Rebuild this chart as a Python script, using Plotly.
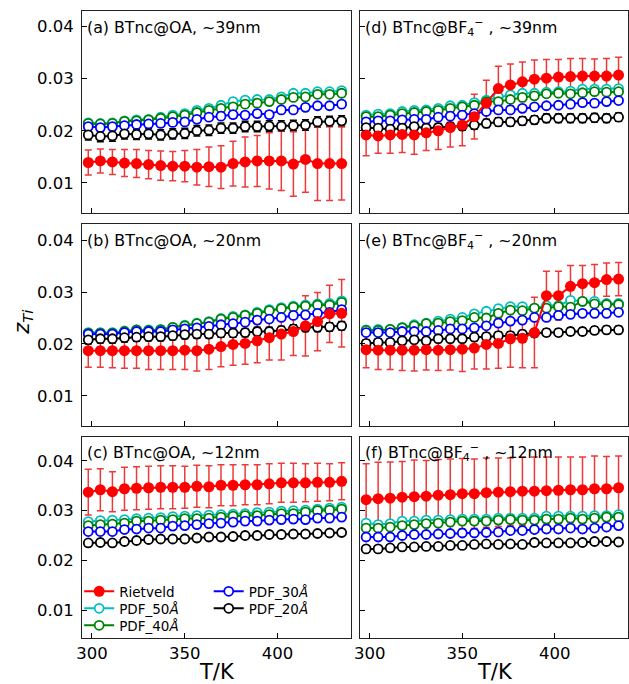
import plotly.graph_objects as go

# ---------------- data ----------------
T = [298, 304.5, 311, 317.5, 324, 330.5, 337, 343.5, 350, 356.5, 363,
     369.5, 376, 382.5, 389, 395.5, 402, 408.5, 415, 421.5, 428, 434.5]

series_names = ["Rietveld", "PDF_50<i>Å</i>", "PDF_40<i>Å</i>", "PDF_30<i>Å</i>", "PDF_20<i>Å</i>"]
series_colors = ["#ff0000", "#00bfbf", "#008000", "#0000ff", "#000000"]

panel_labels = ["(a) BTnc@OA, ~39nm", "(b) BTnc@OA, ~20nm", "(c) BTnc@OA, ~12nm",
                "(d) BTnc@BF<sub>4</sub><sup>−</sup> , ~39nm",
                "(e) BTnc@BF<sub>4</sub><sup>−</sup> , ~20nm",
                "(f) BTnc@BF<sub>4</sub><sup>−</sup> , ~12nm"]

x_ticks = [300, 350, 400]
y_ticks = [0.01, 0.02, 0.03, 0.04]
y_ticktext = ["0.01", "0.02", "0.03", "0.04"]

# (a) OA ~39nm
a_riet = [0.0139, 0.0142, 0.0140, 0.0138, 0.0137, 0.0135, 0.0133, 0.0132, 0.0132, 0.0130, 0.0131,
          0.0130, 0.0137, 0.0140, 0.0142, 0.0142, 0.0142, 0.0136, 0.0145, 0.0137, 0.0137, 0.0137]
a_riet_err = [0.0024, 0.0023, 0.0024, 0.0026, 0.0027, 0.0027, 0.0028, 0.0028, 0.0030, 0.0034, 0.0038,
              0.0041, 0.0043, 0.0048, 0.0049, 0.0054, 0.0057, 0.0062, 0.0063, 0.0071, 0.0071, 0.0070]
a_p50 = [0.0215, 0.0214, 0.0215, 0.0219, 0.0221, 0.0222, 0.0226, 0.0230, 0.0233, 0.0239, 0.0243,
         0.0249, 0.0256, 0.0259, 0.0260, 0.0260, 0.0265, 0.0272, 0.0272, 0.0275, 0.0275, 0.0277]
a_p40 = [0.0214, 0.0213, 0.0214, 0.0218, 0.0219, 0.0221, 0.0224, 0.0227, 0.0230, 0.0235, 0.0239,
         0.0243, 0.0246, 0.0251, 0.0253, 0.0256, 0.0260, 0.0264, 0.0265, 0.0270, 0.0270, 0.0272]
a_p30 = [0.0208, 0.0206, 0.0208, 0.0210, 0.0212, 0.0213, 0.0214, 0.0216, 0.0217, 0.0222, 0.0226,
         0.0228, 0.0231, 0.0230, 0.0233, 0.0231, 0.0240, 0.0240, 0.0245, 0.0248, 0.0248, 0.0251]
a_p20 = [0.0192, 0.0189, 0.0190, 0.0194, 0.0193, 0.0194, 0.0192, 0.0194, 0.0195, 0.0200, 0.0201,
         0.0205, 0.0205, 0.0208, 0.0208, 0.0209, 0.0209, 0.0210, 0.0211, 0.0217, 0.0218, 0.0219]
a_pdf_err = [0.0005, 0.0005, 0.0006, 0.0010]

# (b) OA ~20nm
b_riet = [0.0187, 0.0187, 0.0187, 0.0187, 0.0187, 0.0187, 0.0187, 0.0187, 0.0188, 0.0187, 0.0190,
          0.0195, 0.0199, 0.0201, 0.0206, 0.0212, 0.0219, 0.0224, 0.0235, 0.0243, 0.0258, 0.0259]
b_riet_err = [0.0032, 0.0032, 0.0033, 0.0034, 0.0034, 0.0036, 0.0036, 0.0036, 0.0037, 0.0039, 0.0039,
              0.0039, 0.0040, 0.0040, 0.0042, 0.0043, 0.0050, 0.0046, 0.0058, 0.0056, 0.0055, 0.0065]
b_p50 = [0.0222, 0.0222, 0.0222, 0.0225, 0.0227, 0.0227, 0.0228, 0.0232, 0.0236, 0.0240, 0.0243,
         0.0249, 0.0253, 0.0256, 0.0261, 0.0266, 0.0270, 0.0273, 0.0275, 0.0277, 0.0278, 0.0283]
b_p40 = [0.0221, 0.0221, 0.0221, 0.0224, 0.0227, 0.0226, 0.0227, 0.0232, 0.0235, 0.0239, 0.0242,
         0.0248, 0.0251, 0.0255, 0.0259, 0.0264, 0.0268, 0.0271, 0.0273, 0.0275, 0.0275, 0.0280]
b_p30 = [0.0219, 0.0219, 0.0219, 0.0222, 0.0224, 0.0224, 0.0224, 0.0227, 0.0229, 0.0231, 0.0234,
         0.0237, 0.0239, 0.0242, 0.0246, 0.0248, 0.0251, 0.0255, 0.0256, 0.0259, 0.0261, 0.0266]
b_p20 = [0.0208, 0.0210, 0.0210, 0.0212, 0.0213, 0.0214, 0.0214, 0.0216, 0.0218, 0.0219, 0.0219,
         0.0221, 0.0221, 0.0222, 0.0224, 0.0224, 0.0226, 0.0229, 0.0232, 0.0232, 0.0233, 0.0235]
b_pdf_err = [0.0004, 0.0004, 0.0005, 0.0008]

# (c) OA ~12nm
c_riet = [0.0337, 0.0342, 0.0338, 0.0344, 0.0345, 0.0346, 0.0347, 0.0347, 0.0347, 0.0349, 0.0348,
          0.0351, 0.0351, 0.0352, 0.0352, 0.0354, 0.0356, 0.0356, 0.0356, 0.0357, 0.0357, 0.0359]
c_riet_err = [0.0046, 0.0042, 0.0040, 0.0043, 0.0043, 0.0043, 0.0043, 0.0043, 0.0042, 0.0042, 0.0042,
              0.0041, 0.0041, 0.0040, 0.0040, 0.0040, 0.0039, 0.0039, 0.0038, 0.0038, 0.0037, 0.0037]
c_p50 = [0.0278, 0.0280, 0.0281, 0.0282, 0.0284, 0.0285, 0.0286, 0.0288, 0.0289, 0.0290, 0.0291,
         0.0292, 0.0293, 0.0294, 0.0296, 0.0297, 0.0299, 0.0300, 0.0301, 0.0303, 0.0305, 0.0307]
c_p40 = [0.0270, 0.0272, 0.0273, 0.0275, 0.0279, 0.0279, 0.0281, 0.0282, 0.0284, 0.0284, 0.0285,
         0.0287, 0.0289, 0.0290, 0.0290, 0.0292, 0.0294, 0.0294, 0.0297, 0.0300, 0.0301, 0.0303]
c_p30 = [0.0258, 0.0258, 0.0258, 0.0262, 0.0263, 0.0265, 0.0265, 0.0269, 0.0270, 0.0272, 0.0274,
         0.0275, 0.0277, 0.0279, 0.0279, 0.0281, 0.0282, 0.0283, 0.0282, 0.0285, 0.0285, 0.0287]
c_p20 = [0.0235, 0.0236, 0.0235, 0.0238, 0.0240, 0.0242, 0.0243, 0.0243, 0.0243, 0.0245, 0.0247,
         0.0247, 0.0248, 0.0250, 0.0250, 0.0252, 0.0252, 0.0253, 0.0253, 0.0254, 0.0255, 0.0256]
c_pdf_err = [0.0004, 0.0004, 0.0005, 0.0006]

# (d) BF4 ~39nm
d_riet = [0.0192, 0.0190, 0.0192, 0.0193, 0.0192, 0.0196, 0.0200, 0.0206, 0.0211, 0.0227, 0.0253,
          0.0281, 0.0288, 0.0294, 0.0299, 0.0301, 0.0303, 0.0304, 0.0305, 0.0305, 0.0305, 0.0307]
d_riet_err = [0.0040, 0.0033, 0.0035, 0.0035, 0.0037, 0.0034, 0.0036, 0.0037, 0.0040, 0.0043, 0.0044,
              0.0043, 0.0040, 0.0038, 0.0037, 0.0036, 0.0034, 0.0035, 0.0034, 0.0033, 0.0034, 0.0034]
d_p50 = [0.0230, 0.0232, 0.0233, 0.0237, 0.0239, 0.0240, 0.0243, 0.0248, 0.0249, 0.0254, 0.0259,
         0.0265, 0.0269, 0.0272, 0.0272, 0.0274, 0.0275, 0.0276, 0.0280, 0.0280, 0.0280, 0.0281]
d_p40 = [0.0227, 0.0227, 0.0230, 0.0233, 0.0235, 0.0237, 0.0239, 0.0243, 0.0246, 0.0249, 0.0256,
         0.0256, 0.0260, 0.0264, 0.0267, 0.0271, 0.0272, 0.0271, 0.0273, 0.0275, 0.0274, 0.0275]
d_p30 = [0.0217, 0.0219, 0.0219, 0.0221, 0.0222, 0.0222, 0.0226, 0.0228, 0.0230, 0.0233, 0.0237,
         0.0240, 0.0240, 0.0243, 0.0246, 0.0248, 0.0249, 0.0251, 0.0254, 0.0253, 0.0256, 0.0258]
d_p20 = [0.0206, 0.0205, 0.0203, 0.0205, 0.0208, 0.0205, 0.0206, 0.0208, 0.0209, 0.0211, 0.0214,
         0.0217, 0.0217, 0.0219, 0.0221, 0.0224, 0.0224, 0.0224, 0.0224, 0.0225, 0.0224, 0.0226]
d_pdf_err = [0.0004, 0.0004, 0.0005, 0.0008]

# (e) BF4 ~20nm
e_riet = [0.0189, 0.0188, 0.0188, 0.0188, 0.0188, 0.0189, 0.0188, 0.0189, 0.0190, 0.0192, 0.0199,
          0.0201, 0.0210, 0.0211, 0.0222, 0.0293, 0.0293, 0.0311, 0.0316, 0.0318, 0.0324, 0.0325]
e_riet_err = [0.0035, 0.0037, 0.0037, 0.0039, 0.0040, 0.0039, 0.0039, 0.0039, 0.0043, 0.0040, 0.0047,
              0.0048, 0.0055, 0.0057, 0.0068, 0.0047, 0.0047, 0.0040, 0.0035, 0.0035, 0.0032, 0.0032]
e_p50 = [0.0227, 0.0228, 0.0228, 0.0232, 0.0237, 0.0240, 0.0244, 0.0248, 0.0251, 0.0258, 0.0263,
         0.0268, 0.0272, 0.0272, 0.0269, 0.0274, 0.0274, 0.0284, 0.0282, 0.0282, 0.0278, 0.0278]
e_p40 = [0.0226, 0.0226, 0.0228, 0.0231, 0.0235, 0.0239, 0.0240, 0.0243, 0.0245, 0.0251, 0.0250,
         0.0259, 0.0265, 0.0264, 0.0269, 0.0269, 0.0272, 0.0271, 0.0282, 0.0277, 0.0276, 0.0276]
e_p30 = [0.0222, 0.0222, 0.0222, 0.0224, 0.0224, 0.0224, 0.0226, 0.0229, 0.0229, 0.0231, 0.0235,
         0.0240, 0.0244, 0.0246, 0.0251, 0.0251, 0.0255, 0.0257, 0.0259, 0.0259, 0.0259, 0.0261]
e_p20 = [0.0201, 0.0203, 0.0203, 0.0206, 0.0208, 0.0206, 0.0210, 0.0210, 0.0210, 0.0213, 0.0214,
         0.0216, 0.0216, 0.0219, 0.0221, 0.0222, 0.0222, 0.0224, 0.0224, 0.0226, 0.0227, 0.0227]
e_pdf_err = [0.0004, 0.0004, 0.0005, 0.0007]

# (f) BF4 ~12nm
f_riet = [0.0322, 0.0324, 0.0325, 0.0327, 0.0328, 0.0329, 0.0331, 0.0332, 0.0334, 0.0334, 0.0336,
          0.0337, 0.0338, 0.0339, 0.0339, 0.0340, 0.0341, 0.0342, 0.0342, 0.0344, 0.0344, 0.0346]
f_riet_err = [0.0072, 0.0073, 0.0073, 0.0072, 0.0074, 0.0072, 0.0072, 0.0072, 0.0071, 0.0070, 0.0070,
              0.0069, 0.0068, 0.0069, 0.0069, 0.0068, 0.0067, 0.0066, 0.0066, 0.0066, 0.0065, 0.0064]
f_p50 = [0.0275, 0.0272, 0.0274, 0.0279, 0.0279, 0.0281, 0.0281, 0.0282, 0.0283, 0.0283, 0.0283,
         0.0285, 0.0285, 0.0285, 0.0285, 0.0289, 0.0289, 0.0289, 0.0289, 0.0290, 0.0290, 0.0292]
f_p40 = [0.0265, 0.0265, 0.0267, 0.0270, 0.0272, 0.0274, 0.0275, 0.0277, 0.0279, 0.0279, 0.0279,
         0.0281, 0.0282, 0.0281, 0.0281, 0.0283, 0.0283, 0.0285, 0.0283, 0.0285, 0.0287, 0.0287]
f_p30 = [0.0247, 0.0247, 0.0247, 0.0250, 0.0252, 0.0252, 0.0253, 0.0254, 0.0255, 0.0255, 0.0256,
         0.0257, 0.0260, 0.0260, 0.0262, 0.0263, 0.0263, 0.0265, 0.0263, 0.0265, 0.0267, 0.0270]
f_p20 = [0.0223, 0.0223, 0.0225, 0.0227, 0.0227, 0.0228, 0.0228, 0.0230, 0.0230, 0.0232, 0.0233,
         0.0232, 0.0233, 0.0232, 0.0236, 0.0235, 0.0235, 0.0235, 0.0236, 0.0238, 0.0238, 0.0237]
f_pdf_err = [0.0004, 0.0004, 0.0005, 0.0006]

# ---------------- layout geometry (pixels) ----------------
W, H = 629, 684
FONT = "DejaVu Sans"
col_px = [(77, 349), (358, 630)]
row_px = [(11, 213), (224, 426), (437, 638)]
row_yrange = [[0.0042, 0.0430], [0.0042, 0.0431], [0.0044, 0.0448]]
x_range = [294.7, 439.6]
# legend slot (left px, top px) for each series: two columns, column-major order
legend_slots = [(74, 576), (74, 593), (74, 610), (205, 576), (205, 593)]
legend_ids = ["legend", "legend2", "legend3", "legend4", "legend5"]


def fx(p):
    return min(max(p / W, 0), 1)


def fy(p):
    return min(max(1 - p / H, 0), 1)


panels = [
    (0, 0, panel_labels[0], a_riet, a_riet_err, [a_p50, a_p40, a_p30, a_p20], a_pdf_err),
    (1, 0, panel_labels[1], b_riet, b_riet_err, [b_p50, b_p40, b_p30, b_p20], b_pdf_err),
    (2, 0, panel_labels[2], c_riet, c_riet_err, [c_p50, c_p40, c_p30, c_p20], c_pdf_err),
    (0, 1, panel_labels[3], d_riet, d_riet_err, [d_p50, d_p40, d_p30, d_p20], d_pdf_err),
    (1, 1, panel_labels[4], e_riet, e_riet_err, [e_p50, e_p40, e_p30, e_p20], e_pdf_err),
    (2, 1, panel_labels[5], f_riet, f_riet_err, [f_p50, f_p40, f_p30, f_p20], f_pdf_err),
]

fig = go.Figure()
layout_axes = {}
annotations = []

for k, (r, c, label, riet, riet_err, pdfs, pdf_err) in enumerate(panels):
    n = k + 1
    xa = "x" if n == 1 else f"x{n}"
    ya = "y" if n == 1 else f"y{n}"
    xkey = "xaxis" if n == 1 else f"xaxis{n}"
    ykey = "yaxis" if n == 1 else f"yaxis{n}"
    x0, x1 = col_px[c]
    y0, y1 = row_px[r]
    layout_axes[xkey] = dict(
        domain=[fx(x0), fx(x1)], anchor=ya, range=x_range,
        tickvals=x_ticks, ticks="inside", ticklen=5, tickwidth=1, tickcolor="black",
        showticklabels=(r == 2), showline=True, mirror=True, linecolor="#222", linewidth=1.3,
        showgrid=False, zeroline=False,
        tickfont=dict(family=FONT, size=16.5, color="black"))
    layout_axes[ykey] = dict(
        domain=[fy(y1), fy(y0)], anchor=xa, range=row_yrange[r],
        tickvals=y_ticks, ticktext=y_ticktext, ticks="inside", ticklen=5, tickwidth=1,
        tickcolor="black", showticklabels=(c == 0), showline=True, mirror=True,
        linecolor="#222", linewidth=1.3, showgrid=False, zeroline=False,
        ticklabelstandoff=4,
        tickfont=dict(family=FONT, size=16.5, color="black"))

    all_y = [riet] + pdfs
    all_err = [riet_err] + [[e] * len(T) for e in pdf_err]
    draw_order = [1, 2, 3, 4, 0]  # Rietveld drawn on top

    # error bars first (beneath every line and marker)
    for s in draw_order:
        col = series_colors[s]
        ecol = "rgba(235,35,35,0.9)" if s == 0 else col
        fig.add_trace(go.Scatter(
            x=T, y=all_y[s], xaxis=xa, yaxis=ya, mode="markers",
            marker=dict(size=1, opacity=0),
            error_y=dict(type="data", array=all_err[s], color=ecol,
                         thickness=1.5, width=3.5),
            showlegend=False, hoverinfo="skip"))

    # lines + markers
    for s in draw_order:
        col = series_colors[s]
        if s == 0:
            mk = dict(symbol="circle", size=11, color=col, line=dict(width=0))
        else:
            mk = dict(symbol="circle", size=9, color="white", line=dict(color=col, width=1.8))
        show = (r == 2 and c == 0)
        fig.add_trace(go.Scatter(
            x=T, y=all_y[s], xaxis=xa, yaxis=ya, mode="lines+markers",
            line=dict(color=col, width=2), marker=mk, name=series_names[s],
            showlegend=show, legend=legend_ids[s], hoverinfo="skip"))

    annotations.append(dict(
        x=fx(x0 + 3), y=fy(y0 + 16), xref="paper", yref="paper",
        xanchor="left", yanchor="middle", text=label, showarrow=False,
        font=dict(family=FONT, size=15.8, color="black")))

# axis titles
for c in range(2):
    x0, x1 = col_px[c]
    annotations.append(dict(
        x=fx((x0 + x1) / 2), y=fy(672), xref="paper", yref="paper",
        xanchor="center", yanchor="middle", text="T/K", showarrow=False,
        font=dict(family=FONT, size=21, color="black")))
annotations.append(dict(
    x=fx(17), y=fy(322), xref="paper", yref="paper", xanchor="center", yanchor="middle",
    text="<i>z</i><sub><i>Ti</i></sub>", textangle=-90, showarrow=False,
    font=dict(family=FONT, size=21, color="black")))

legend_common = dict(font=dict(family=FONT, size=13.5, color="black"),
                     bgcolor="rgba(0,0,0,0)", borderwidth=0, tracegroupgap=0,
                     xanchor="left", yanchor="top", itemwidth=30)
legends = {}
for lid, (lx, ly) in zip(legend_ids, legend_slots):
    legends[lid] = dict(x=fx(lx), y=fy(ly), **legend_common)

fig.update_layout(
    width=W, height=H,
    margin=dict(l=0, r=0, t=0, b=0),
    paper_bgcolor="white", plot_bgcolor="white",
    font=dict(family=FONT, color="black"),
    annotations=annotations,
    **legends,
    **layout_axes)

fig.write_html("out.html", config={"displayModeBar": False},
               post_script="document.body.style.margin='0';document.body.style.overflow='hidden';")
